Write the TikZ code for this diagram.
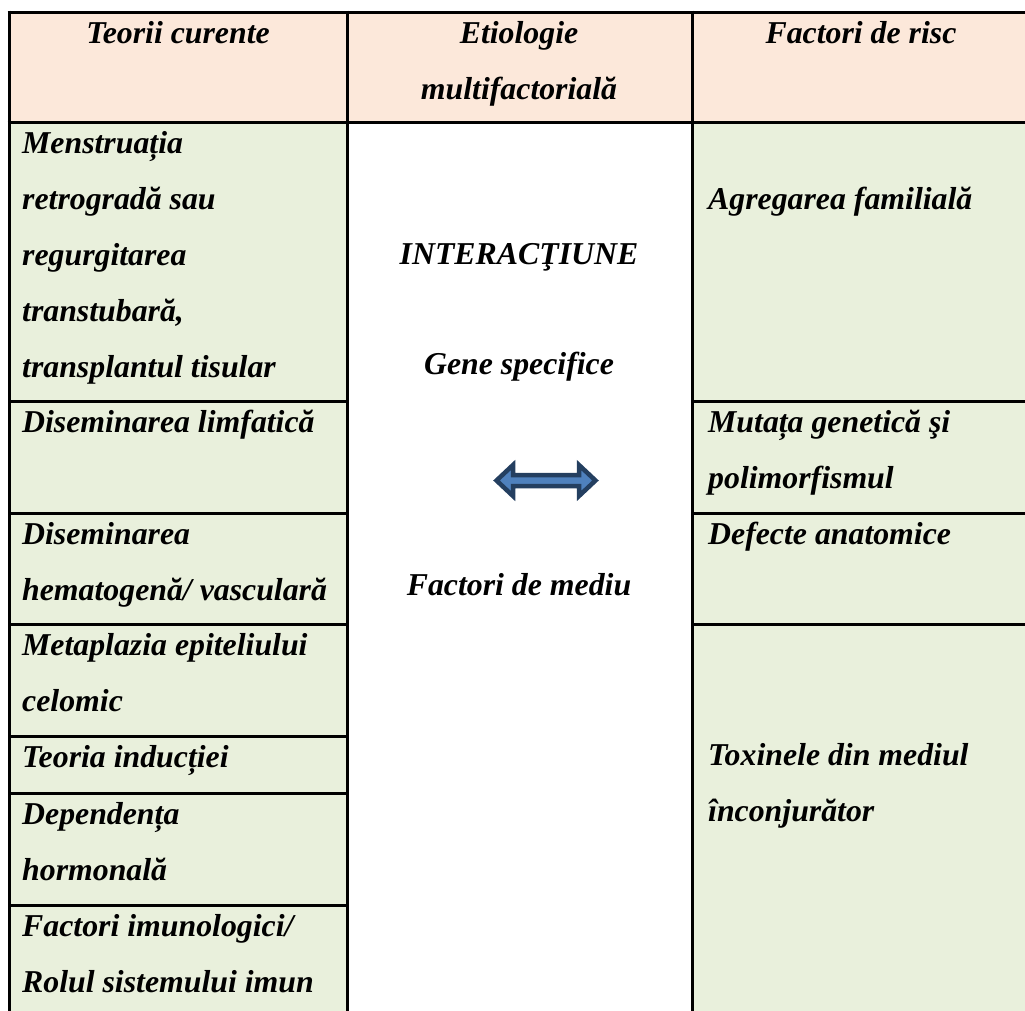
\documentclass[tikz,border=0pt]{standalone}
\usepackage{fontspec}
\setmainfont{Liberation Serif}
\definecolor{headfill}{HTML}{FCE8DA}
\definecolor{bodyfill}{HTML}{E9F0DC}
\definecolor{arrline}{HTML}{243F60}
\definecolor{arrfill}{HTML}{4F81BD}
\begin{document}
\begin{tikzpicture}[x=1pt,y=-1pt,
  grid/.style={line width=3pt,black},
  txt/.style={anchor=base west,inner sep=0pt,font=\fontsize{31.8}{40}\selectfont\bfseries\itshape},
  ctxt/.style={anchor=base,inner sep=0pt,font=\fontsize{31.8}{40}\selectfont\bfseries\itshape}]
\useasboundingbox (0,0) rectangle (1025,1010);
\clip (0,0) rectangle (1025,1010);
% fills
\fill[headfill] (9,12) rectangle (1035,122);
\fill[bodyfill] (9,122) rectangle (347,1020);
\fill[bodyfill] (692,122) rectangle (1035,1020);
% grid lines
\draw[grid] (7.5,12) -- (1035,12);
\draw[grid] (7.5,122) -- (1035,122);
\draw[grid] (9,10.5) -- (9,1020);
\draw[grid] (347,10.5) -- (347,1020);
\draw[grid] (692,10.5) -- (692,1020);
\foreach \yy in {401,513,624,736,793,905}
  \draw[grid] (9,\yy) -- (347,\yy);
\foreach \yy in {401,513,624}
  \draw[grid] (692,\yy) -- (1035,\yy);
% header
\node[ctxt] (h1) at (178,43) {Teorii curente};
\node[ctxt] (h2a) at (519,43) {Etiologie};
\node[ctxt] (h2b) at (519,99) {multifactorială};
\node[ctxt] (h3) at (861,43) {Factori de risc};
% left column
\node[txt] (l1a) at (22,153) {Menstruația};
\node[txt] (l1b) at (22,209) {retrogradă sau};
\node[txt] (l1c) at (22,265) {regurgitarea};
\node[txt] (l1d) at (22,321) {transtubară,};
\node[txt] (l1e) at (22,377) {transplantul tisular};
\node[txt] (l2) at (22,432) {Diseminarea limfatică};
\node[txt] (l3a) at (22,544) {Diseminarea};
\node[txt] (l3b) at (22,600) {hematogenă/ vasculară};
\node[txt] (l4a) at (22,655) {Metaplazia epiteliului};
\node[txt] (l4b) at (22,711) {celomic};
\node[txt] (l5) at (22,767) {Teoria inducției};
\node[txt] (l6a) at (22,824) {Dependența};
\node[txt] (l6b) at (22,880) {hormonală};
\node[txt] (l7a) at (22,936) {Factori imunologici/};
\node[txt] (l7b) at (22,992) {Rolul sistemului imun};
% middle column
\node[ctxt] (m1) at (519,264) {INTERACŢIUNE};
\node[ctxt] (m2) at (519,374) {Gene specifice};
\node[ctxt] (m3) at (519,595) {Factori de mediu};
% arrow
\draw[line width=4.5pt,line join=miter,draw=arrline,fill=arrfill]
  (496.5,480.5) -- (513,465) -- (513,475) -- (579,475) -- (579,465) -- (595.5,480.5)
  -- (579,496) -- (579,486) -- (513,486) -- (513,496) -- cycle;
% right column
\node[txt] (r1) at (708,209) {Agregarea familială};
\node[txt] (r2a) at (708,432) {Mutața genetică şi};
\node[txt] (r2b) at (708,488) {polimorfismul};
\node[txt] (r3) at (708,544) {Defecte anatomice};
\node[txt] (r4a) at (708,765) {Toxinele din mediul};
\node[txt] (r4b) at (708,821) {înconjurător};
\end{tikzpicture}
\end{document}
